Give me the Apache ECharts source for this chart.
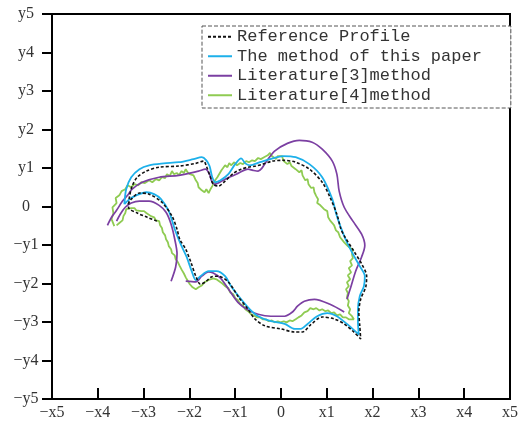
<!DOCTYPE html>
<html>
<head>
<meta charset="utf-8">
<script src="https://cdn.jsdelivr.net/npm/echarts@6/dist/echarts.min.js"></script>
<style>html,body{margin:0;padding:0;background:#fff}#c{width:521px;height:423px}</style>
</head>
<body>
<div id="c"></div>
<script>
const xTicks = [-5,-4,-3,-2,-1,0,1,2,3,4,5];
const yTicks = [-5,-4,-3,-2,-1,0,1,2,3,4,5];
const seriesNames = ['Reference Profile','The method of this paper','Literature[3]method','Literature[4]method'];

const referenceProfile = [[-2.71,-0.38],[-2.92,-0.28],[-3.14,-0.17],[-3.33,-0.02],[-3.31,0.24],[-3.25,0.53],[-3.14,0.76],[-2.94,0.92],[-2.66,1.02],[-2.23,1.05],[-1.86,1.12],[-1.69,1.18],[-1.63,1.05],[-1.54,0.76],[-1.48,0.58],[-1.37,0.53],[-1.22,0.66],[-1.04,0.86],[-0.87,0.97],[-0.72,1.02],[-0.55,1.05],[-0.40,1.10],[-0.18,1.18],[0.04,1.20],[0.32,1.15],[0.62,0.97],[0.90,0.63],[1.07,0.24],[1.22,-0.20],[1.31,-0.59],[1.40,-0.80],[1.59,-1.16],[1.76,-1.49],[1.87,-1.81],[1.85,-2.09],[1.74,-2.41],[1.70,-2.74],[1.72,-3.10],[1.74,-3.44],[1.59,-3.26],[1.38,-3.05],[1.16,-2.92],[0.90,-2.87],[0.64,-3.08],[0.47,-3.26],[0.30,-3.26],[0.00,-3.18],[-0.35,-3.10],[-0.57,-2.92],[-0.72,-2.67],[-0.94,-2.33],[-1.15,-1.96],[-1.37,-1.81],[-1.52,-1.83],[-1.65,-1.96],[-1.76,-2.02],[-1.86,-1.81],[-1.97,-1.44],[-2.08,-1.11],[-2.21,-0.85],[-2.27,-0.59],[-2.38,-0.25],[-2.60,0.11],[-2.88,0.32],[-3.09,0.35],[-3.27,0.19],[-3.35,0.03]];

const methodThisPaper = [[-3.42,0.06],[-3.31,0.19],[-3.16,0.29],[-2.94,0.37],[-2.77,0.32],[-2.62,0.19],[-2.45,-0.12],[-2.32,-0.59],[-2.19,-0.98],[-2.06,-1.31],[-1.95,-1.68],[-1.86,-1.91],[-1.76,-1.81],[-1.58,-1.68],[-1.41,-1.68],[-1.22,-1.81],[-1.09,-2.07],[-0.87,-2.41],[-0.68,-2.67],[-0.50,-2.85],[-0.22,-2.98],[0.08,-3.05],[0.30,-3.18],[0.43,-3.18],[0.58,-3.05],[0.79,-2.85],[1.01,-2.77],[1.22,-2.85],[1.44,-3.05],[1.70,-3.33],[1.68,-3.00],[1.68,-2.67],[1.72,-2.33],[1.81,-2.07],[1.83,-1.81],[1.72,-1.55],[1.55,-1.19],[1.38,-0.77],[1.22,-0.25],[1.12,0.19],[0.90,0.76],[0.62,1.10],[0.32,1.28],[0.04,1.31],[-0.18,1.25],[-0.46,1.15],[-0.68,1.07],[-0.78,1.12],[-0.87,1.25],[-1.00,1.10],[-1.15,0.84],[-1.32,0.68],[-1.43,0.63],[-1.50,0.76],[-1.56,1.05],[-1.63,1.20],[-1.73,1.28],[-1.91,1.23],[-2.23,1.15],[-2.56,1.12],[-2.88,1.07],[-3.09,0.97],[-3.27,0.76],[-3.38,0.45],[-3.42,0.06]];

const lit3Outer = [[-3.79,-0.49],[-3.70,-0.28],[-3.59,-0.10],[-3.46,0.14],[-3.35,0.29],[-3.25,0.45],[-3.03,0.63],[-2.66,0.76],[-2.23,0.81],[-1.80,0.92],[-1.65,0.97],[-1.56,0.84],[-1.52,0.68],[-1.45,0.58],[-1.37,0.61],[-1.22,0.71],[-0.94,0.86],[-0.72,0.97],[-0.61,0.94],[-0.50,0.92],[-0.42,0.99],[-0.33,1.15],[-0.14,1.44],[0.14,1.64],[0.40,1.72],[0.68,1.67],[0.90,1.49],[1.12,1.18],[1.22,0.84],[1.27,0.40],[1.38,-0.02],[1.57,-0.38],[1.76,-0.72],[1.83,-1.01],[1.76,-1.31],[1.63,-1.68],[1.53,-2.07],[1.44,-2.41]];
const lit3Inner = [[-3.59,-0.38],[-3.51,-0.20],[-3.40,-0.02],[-3.27,0.09],[-3.09,0.14],[-2.88,0.14],[-2.66,0.03],[-2.51,-0.15],[-2.40,-0.46],[-2.32,-0.85],[-2.27,-1.23],[-2.30,-1.57],[-2.40,-1.94]];
const lit3Bottom = [[-2.08,-1.94],[-1.86,-1.96],[-1.73,-1.81],[-1.58,-1.70],[-1.48,-1.73],[-1.32,-1.86],[-1.15,-2.14],[-0.94,-2.49],[-0.72,-2.69],[-0.50,-2.80],[-0.22,-2.85],[0.08,-2.85],[0.25,-2.74],[0.36,-2.59],[0.51,-2.46],[0.73,-2.41],[1.07,-2.54],[1.38,-2.74]];

const lit4 = [[-3.64,-0.51],[-3.70,-0.33],[-3.66,-0.17],[-3.68,-0.02],[-3.59,0.09],[-3.61,0.22],[-3.53,0.29],[-3.48,0.40],[-3.40,0.45],[-3.35,0.55],[-3.27,0.50],[-3.20,0.58],[-3.12,0.55],[-3.05,0.63],[-2.97,0.61],[-2.88,0.68],[-2.81,0.63],[-2.73,0.71],[-2.66,0.68],[-2.60,0.76],[-2.53,0.74],[-2.49,0.84],[-2.43,0.79],[-2.38,0.92],[-2.34,0.84],[-2.27,0.87],[-2.23,0.81],[-2.17,0.92],[-2.12,0.87],[-2.08,0.97],[-2.04,0.89],[-1.99,0.84],[-1.95,0.79],[-1.91,0.81],[-1.86,0.68],[-1.82,0.61],[-1.80,0.50],[-1.76,0.55],[-1.73,0.42],[-1.67,0.37],[-1.63,0.45],[-1.58,0.35],[-1.54,0.45],[-1.50,0.53],[-1.45,0.66],[-1.41,0.61],[-1.39,0.76],[-1.35,0.81],[-1.30,0.94],[-1.26,0.92],[-1.22,1.07],[-1.17,1.02],[-1.13,1.13],[-1.09,1.07],[-1.02,1.15],[-0.96,1.07],[-0.89,1.13],[-0.83,1.10],[-0.76,1.18],[-0.70,1.15],[-0.63,1.20],[-0.57,1.18],[-0.50,1.26],[-0.44,1.23],[-0.37,1.28],[-0.33,1.26],[-0.29,1.33],[-0.24,1.39],[-0.20,1.31],[-0.16,1.33],[-0.11,1.23],[-0.07,1.31],[-0.03,1.26],[0.02,1.31],[0.06,1.18],[0.10,1.20],[0.14,1.10],[0.19,1.15],[0.23,1.05],[0.27,1.07],[0.32,0.97],[0.36,1.02],[0.40,0.89],[0.45,0.94],[0.47,0.81],[0.51,0.84],[0.53,0.68],[0.58,0.71],[0.60,0.58],[0.64,0.61],[0.66,0.48],[0.71,0.50],[0.73,0.37],[0.75,0.42],[0.77,0.27],[0.81,0.19],[0.79,0.09],[0.86,0.03],[0.90,-0.02],[0.94,-0.07],[1.01,-0.12],[1.05,-0.17],[1.03,-0.28],[1.07,-0.36],[1.12,-0.43],[1.16,-0.49],[1.20,-0.62],[1.25,-0.67],[1.29,-0.80],[1.33,-0.85],[1.38,-0.93],[1.42,-0.98],[1.46,-1.03],[1.51,-1.08],[1.57,-1.11],[1.59,-1.16],[1.55,-1.24],[1.57,-1.34],[1.51,-1.42],[1.55,-1.53],[1.48,-1.60],[1.53,-1.71],[1.46,-1.79],[1.51,-1.89],[1.44,-1.97],[1.48,-2.07],[1.42,-2.15],[1.46,-2.25],[1.44,-2.36],[1.48,-2.46],[1.46,-2.57],[1.51,-2.67],[1.48,-2.77],[1.55,-2.85],[1.59,-2.93],[1.57,-2.98],[1.48,-2.93],[1.42,-2.88],[1.35,-2.88],[1.29,-2.80],[1.22,-2.83],[1.16,-2.75],[1.10,-2.77],[1.03,-2.70],[0.97,-2.72],[0.90,-2.67],[0.84,-2.70],[0.77,-2.64],[0.71,-2.67],[0.64,-2.64],[0.58,-2.72],[0.51,-2.75],[0.45,-2.83],[0.38,-2.88],[0.32,-2.93],[0.25,-2.98],[0.19,-2.96],[0.12,-3.01],[0.06,-2.98],[-0.01,-3.01],[-0.07,-2.98],[-0.14,-3.01],[-0.20,-2.96],[-0.27,-2.98],[-0.33,-2.93],[-0.40,-2.93],[-0.46,-2.88],[-0.52,-2.88],[-0.59,-2.83],[-0.65,-2.80],[-0.72,-2.72],[-0.78,-2.67],[-0.83,-2.57],[-0.89,-2.54],[-0.94,-2.43],[-1.00,-2.38],[-1.04,-2.28],[-1.11,-2.23],[-1.15,-2.12],[-1.22,-2.07],[-1.28,-2.00],[-1.35,-1.94],[-1.41,-1.89],[-1.48,-1.87],[-1.54,-1.89],[-1.60,-1.92],[-1.67,-1.97],[-1.73,-2.05],[-1.80,-2.10],[-1.86,-2.15],[-1.93,-2.10],[-1.99,-2.02],[-2.04,-1.92],[-2.08,-1.84],[-2.12,-1.74],[-2.17,-1.64],[-2.21,-1.55],[-2.25,-1.45],[-2.30,-1.37],[-2.32,-1.27],[-2.38,-1.21],[-2.40,-1.11],[-2.45,-1.03],[-2.47,-0.93],[-2.51,-0.85],[-2.53,-0.75],[-2.58,-0.67],[-2.60,-0.56],[-2.64,-0.49],[-2.66,-0.38],[-2.73,-0.36],[-2.77,-0.28],[-2.84,-0.25],[-2.88,-0.20],[-2.94,-0.17],[-2.99,-0.12],[-3.05,-0.12],[-3.09,-0.07],[-3.16,-0.10],[-3.20,-0.04],[-3.27,-0.04],[-3.31,-0.02],[-3.38,-0.07],[-3.40,-0.17],[-3.44,-0.25],[-3.46,-0.36],[-3.53,-0.43],[-3.57,-0.38],[-3.59,-0.49]];

const colors = {ref:'#111111', blue:'#1DB0EA', purple:'#7B3FA2', green:'#8FCB52'};

function xLabel(v){ return v===0 ? '0' : (v<0 ? '\u2212x'+(-v) : 'x'+v); }
function yLabel(v){ return v===0 ? '0' : (v<0 ? '\u2212y'+(-v) : 'y'+v); }

const chart = echarts.init(document.getElementById('c'), null, {renderer:'canvas'});
const lineBase = {type:'line', symbol:'none', showSymbol:false, animation:false, silent:true};
chart.setOption({
  backgroundColor:'#fff',
  animation:false,
  grid:{left:52, right:6, top:14, bottom:24, show:true, borderColor:'#000', borderWidth:2, containLabel:false},
  legend:{
    data:seriesNames, orient:'vertical', left:202, top:26,
    padding:[1,29,3,5], itemGap:0, itemWidth:24, itemHeight:10, itemTextGap:6,
    itemStyle:{opacity:0},
    borderColor:'#555', borderWidth:1, borderType:'dashed', backgroundColor:'#fff',
    textStyle:{fontFamily:'Liberation Mono', fontSize:17, color:'#333', lineHeight:19.5}
  },
  xAxis:{type:'value', min:-5, max:5, interval:1,
    axisLine:{onZero:false, lineStyle:{color:'#000', width:2}},
    axisTick:{inside:true, length:11, lineStyle:{color:'#000', width:2}},
    axisLabel:{formatter:xLabel, fontFamily:'Liberation Serif', fontSize:16, color:'#333', margin:6, showMinLabel:true, showMaxLabel:true},
    splitLine:{show:false}},
  yAxis:{type:'value', min:-5, max:5, interval:1,
    axisLine:{onZero:false, lineStyle:{color:'#000', width:2}},
    axisTick:{inside:false, length:10, lineStyle:{color:'#000', width:2}},
    axisLabel:{formatter:yLabel, fontFamily:'Liberation Serif', fontSize:16, color:'#333', margin:26, align:'center', showMinLabel:true, showMaxLabel:true},
    splitLine:{show:false}},
  series:[
    Object.assign({}, lineBase, {name:seriesNames[3], data:lit4, z:2, lineStyle:{color:colors.green, width:1.8}, itemStyle:{color:colors.green}}),
    Object.assign({}, lineBase, {name:seriesNames[2], data:lit3Outer, smooth:0.3, z:3, lineStyle:{color:colors.purple, width:1.7}, itemStyle:{color:colors.purple}}),
    Object.assign({}, lineBase, {name:seriesNames[2], data:lit3Inner, smooth:0.3, z:3, lineStyle:{color:colors.purple, width:1.7}, itemStyle:{color:colors.purple}}),
    Object.assign({}, lineBase, {name:seriesNames[2], data:lit3Bottom, smooth:0.3, z:3, lineStyle:{color:colors.purple, width:1.7}, itemStyle:{color:colors.purple}}),
    Object.assign({}, lineBase, {name:seriesNames[1], data:methodThisPaper, smooth:0.3, z:4, lineStyle:{color:colors.blue, width:1.8}, itemStyle:{color:colors.blue}}),
    Object.assign({}, lineBase, {name:seriesNames[0], data:referenceProfile, smooth:0.3, z:5, lineStyle:{color:colors.ref, width:1.6, type:[3,2]}, itemStyle:{color:colors.ref}})
  ]
});
</script>
</body>
</html>
